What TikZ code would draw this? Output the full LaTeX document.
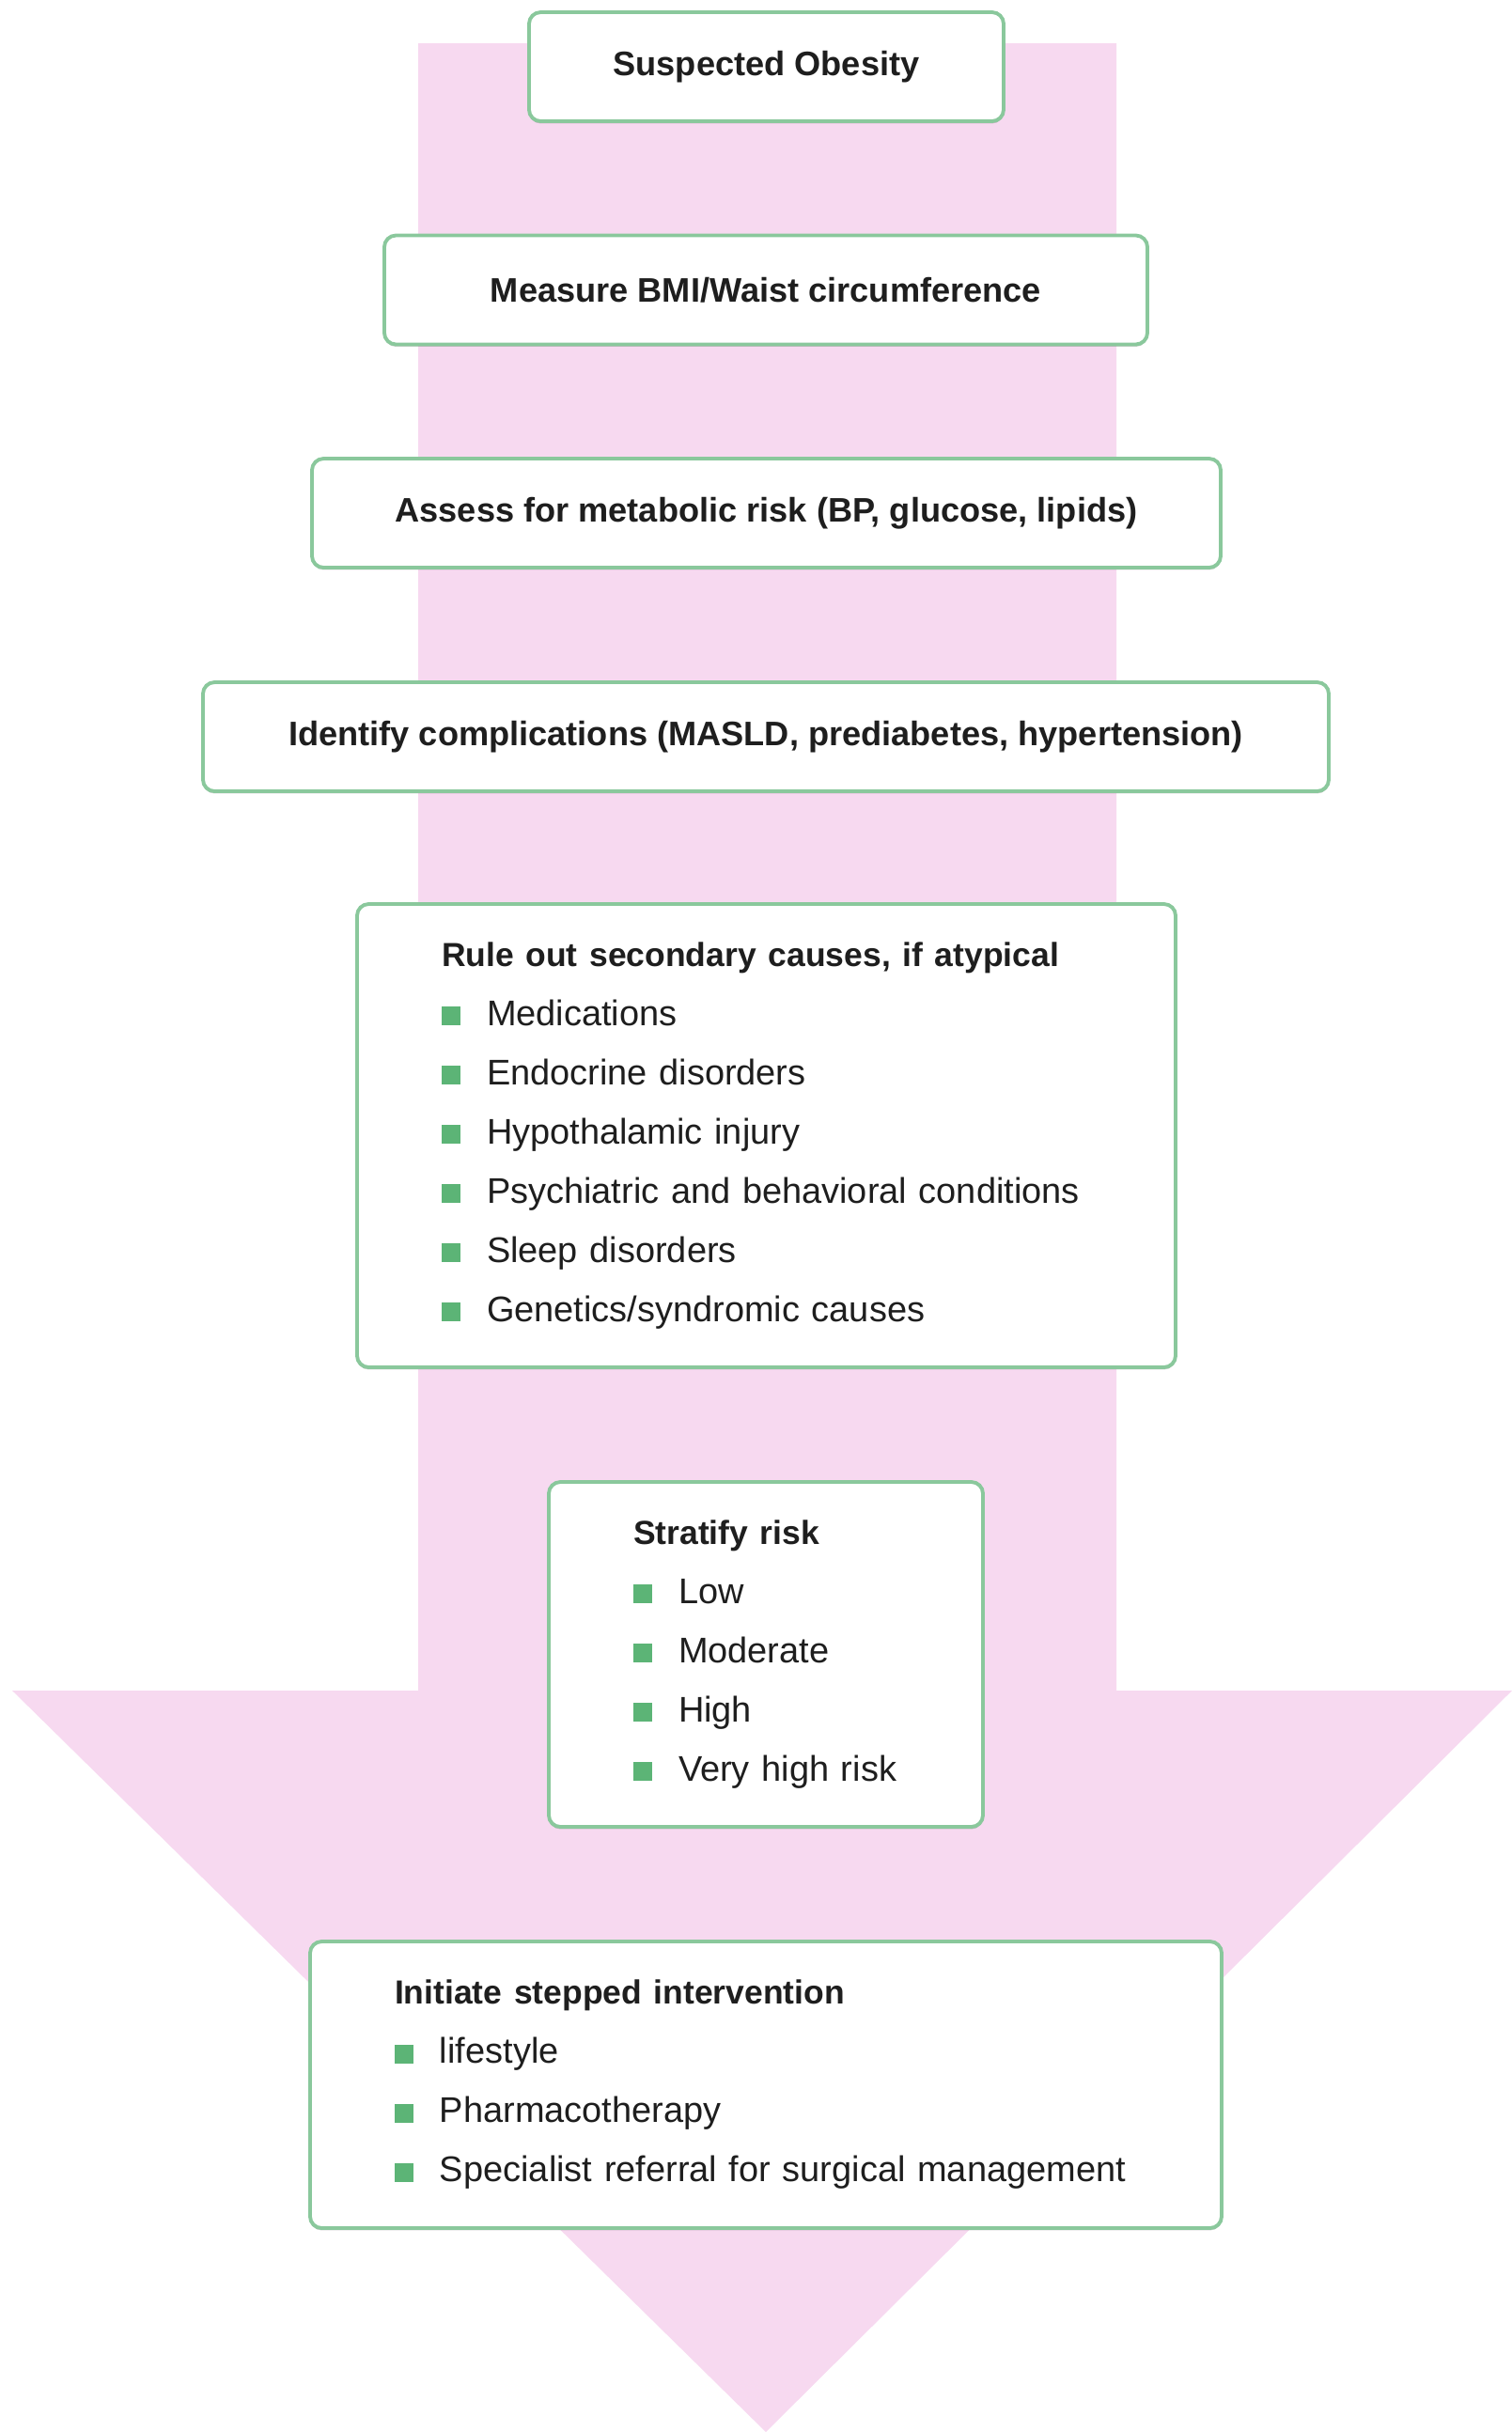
\documentclass[tikz,border=0pt]{standalone}
\usepackage{fontspec}
\setmainfont{Liberation Sans}
\usetikzlibrary{shadows}
\definecolor{arrowpink}{RGB}{247,217,240}
\definecolor{boxgreen}{RGB}{138,200,156}
\definecolor{bulletgreen}{RGB}{92,180,118}
\definecolor{textgray}{RGB}{30,30,30}
\def\sqitem#1{\mbox{\fontsize{10.8}{17.93}\selectfont\textcolor{bulletgreen}{\rule{0.2cm}{0.2cm}}\hspace{0.28cm}#1}}
\def\boxtitle#1{\mbox{\fontsize{10.1}{17.93}\selectfont\bfseries #1}}
\tikzset{
	stepbox/.style={draw=boxgreen, line width=1.1pt, fill=white, rounded corners=3.5pt,
		text=textgray, inner sep=0pt, minimum height=1.16cm,
		drop shadow={shadow xshift=0pt, shadow yshift=-0.7pt, opacity=0.3, fill=black!60},
		font=\fontsize{10.3}{17.93}\selectfont\bfseries},
	listbox/.style={stepbox, align=left, inner xsep=0.9cm, font=\fontsize{10.8}{17.93}\selectfont}
}

\begin{document}
\begin{tikzpicture}
			%%%%% START %%%%%
			\useasboundingbox (0, 0) rectangle (16.09, -25.88);
			
			% big arrow behind the steps
			\fill[arrowpink] (4.45, -0.46) -- (11.88, -0.46) -- (11.88, -17.99) -- (16.09, -17.99)
				-- (8.15, -25.88) -- (0.13, -17.99) -- (4.45, -17.99) -- cycle;
			
			\node[stepbox, minimum width=5.05cm] (obesity) at (8.155, -0.71) {Suspected Obesity};
			\node[stepbox, minimum width=8.12cm] (bmi) at (8.15, -3.085) {Measure BMI/Waist circumference};
			\node[stepbox, minimum width=9.67cm] (metabolic) at (8.155, -5.46) {Assess for metabolic risk (BP, glucose, lipids)};
			\node[stepbox, minimum width=11.98cm] (complications) at (8.15, -7.84) {Identify complications (MASLD, prediabetes, hypertension)};
			
			\node[listbox, text width=6.91cm, minimum height=4.93cm] (secondary) at (8.155, -12.085) {%
				\boxtitle{Rule out secondary causes, if atypical}\\
				\sqitem{Medications}\\
				\sqitem{Endocrine disorders}\\
				\sqitem{Hypothalamic injury}\\
				\sqitem{Psychiatric and behavioral conditions}\\
				\sqitem{Sleep disorders}\\
				\sqitem{Genetics/syndromic causes}};
			
			\node[listbox, text width=2.82cm, minimum height=3.67cm] (stratify) at (8.15, -17.605) {%
				\boxtitle{Stratify risk}\\
				\sqitem{Low}\\
				\sqitem{Moderate}\\
				\sqitem{High}\\
				\sqitem{Very high risk}};
			
			\node[listbox, text width=7.90cm, minimum height=3.05cm] (intervention) at (8.15, -22.185) {%
				\boxtitle{Initiate stepped intervention}\\
				\sqitem{lifestyle}\\
				\sqitem{Pharmacotherapy}\\
				\sqitem{Specialist referral for surgical management}};
			
			%%%%% END %%%%%
\end{tikzpicture}
\end{document}
